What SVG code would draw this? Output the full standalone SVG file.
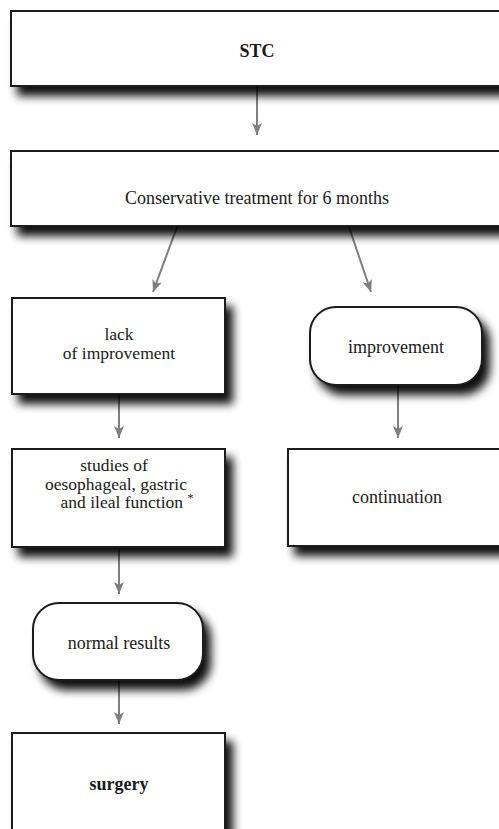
<svg xmlns="http://www.w3.org/2000/svg" width="499" height="829" viewBox="0 0 499 829">
<style>
.box{fill:#fff;stroke:#1a1a1a;stroke-width:2;filter:url(#sh)}
.t{font-family:'Liberation Serif','Times New Roman',serif;font-size:18px;fill:#1a1a1a;text-anchor:middle}
.m{font-size:17.5px}
.b{font-weight:bold}
.c{stroke:#7f7f7f;stroke-width:2;fill:none;marker-end:url(#ah)}
</style>
<defs>
<filter id="sh" x="-20%" y="-20%" width="150%" height="160%">
<feGaussianBlur in="SourceAlpha" stdDeviation="5"/>
<feOffset dx="7" dy="9" result="b"/>
<feComponentTransfer><feFuncA type="linear" slope="0.95"/></feComponentTransfer>
<feMerge><feMergeNode/><feMergeNode in="SourceGraphic"/></feMerge>
</filter>
<marker id="ah" viewBox="0 0 12 10" refX="12" refY="5" markerWidth="12" markerHeight="10" markerUnits="userSpaceOnUse" orient="auto">
<path d="M0,0 L12,5 L0,10 L3,5 Z" fill="#7f7f7f"/>
</marker>
</defs>
<g id="connectors">
<line class="c" x1="257" y1="87" x2="257" y2="135"/>
<line class="c" x1="177" y1="227" x2="153" y2="292"/>
<line class="c" x1="349" y1="227" x2="371" y2="292"/>
<line class="c" x1="119" y1="395" x2="119" y2="438"/>
<line class="c" x1="398" y1="386" x2="398" y2="438"/>
<line class="c" x1="119" y1="548" x2="119" y2="594"/>
<line class="c" x1="119" y1="681" x2="119" y2="724"/>
</g>
<g id="stc">
<rect class="box" x="11" y="11" width="500" height="75"/>
<text class="t b" x="257" y="57">STC</text>
</g>
<g id="conservative">
<rect class="box" x="11" y="151" width="500" height="75"/>
<text class="t" x="257" y="204">Conservative treatment for 6 months</text>
</g>
<g id="lack">
<rect class="box" x="12" y="298" width="213" height="96"/>
<text class="t m" x="119" y="340">lack</text>
<text class="t m" x="119" y="358.5">of improvement</text>
</g>
<g id="improvement">
<rect class="box" x="310" y="307" width="172" height="78" rx="26"/>
<text class="t" x="396" y="353">improvement</text>
</g>
<g id="studies">
<rect class="box" x="12" y="449" width="213" height="98"/>
<text class="t m" x="114" y="471">studies of</text>
<text class="t m" x="116" y="489.5">oesophageal, gastric</text>
<text class="t m" x="127" y="508">and ileal function <tspan font-size="12" dy="-6">*</tspan></text>
</g>
<g id="continuation">
<rect class="box" x="288" y="449" width="230" height="97"/>
<text class="t" x="397" y="503">continuation</text>
</g>
<g id="normal">
<rect class="box" x="33" y="603" width="170" height="77" rx="26"/>
<text class="t" x="119" y="649">normal results</text>
</g>
<g id="surgery">
<rect class="box" x="12" y="733" width="213" height="120"/>
<text class="t b" x="119" y="790">surgery</text>
</g>
</svg>
